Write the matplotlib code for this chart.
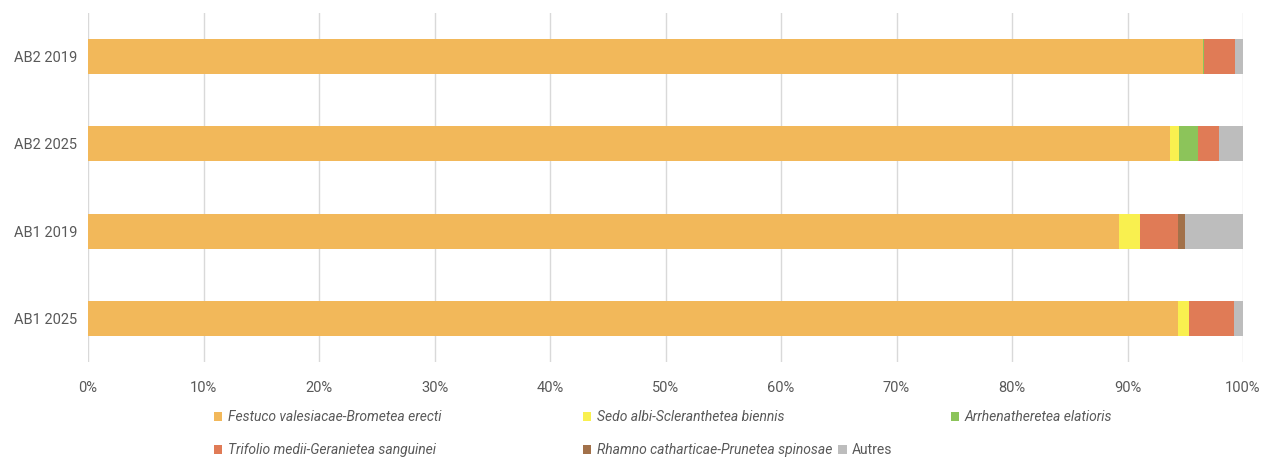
import numpy as np
import matplotlib.pyplot as plt
from matplotlib.patches import Patch

categories = ['AB2 2019', 'AB2 2025', 'AB1 2019', 'AB1 2025']
series_names = ['Festuco valesiacae-Brometea erecti',
                'Sedo albi-Scleranthetea biennis',
                'Arrhenatheretea elatioris',
                'Trifolio medii-Geranietea sanguinei',
                'Rhamno catharticae-Prunetea spinosae',
                'Autres']
festuco = [96.5, 93.7, 89.3, 94.4]
sedo = [0.0, 0.8, 1.8, 0.9]
arrhena = [0.1, 1.6, 0.0, 0.0]
trifolio = [2.7, 1.8, 3.3, 3.9]
rhamno = [0.0, 0.0, 0.6, 0.0]
autres = [0.7, 2.1, 5.0, 0.8]

colors = ['#F2B85A', '#F9F04F', '#8CC45A', '#E07B56', '#A2714A', '#BDBDBD']
italic = [True, True, True, True, True, False]

plt.rcParams['font.family'] = ['Roboto', 'DejaVu Sans']

W, H = 1271, 461
fig = plt.figure(figsize=(W / 100, H / 100), dpi=100)
ax = fig.add_axes([88 / W, 1 - 362 / H, (1243 - 88) / W, (362 - 13) / H])

y = np.arange(len(categories))
left = np.zeros(len(categories))
for vals, name, c in zip([festuco, sedo, arrhena, trifolio, rhamno, autres], series_names, colors):
    ax.barh(y, vals, left=left, height=0.4, color=c, label=name, zorder=2)
    left += np.array(vals)

ax.set_xlim(0, 100)
ax.set_ylim(3.5, -0.5)
ax.set_yticks(y)
ax.set_yticklabels(categories)
ax.set_xticks(np.arange(0, 101, 10))
ax.set_xticklabels([f'{v}%' for v in range(0, 101, 10)])
ax.tick_params(axis='both', length=0, labelsize=10.5, colors='#595959')
ax.tick_params(axis='x', pad=14)
ax.tick_params(axis='y', pad=8)
ax.grid(axis='x', color='#D9D9D9', linewidth=1, zorder=0)
for s in ax.spines.values():
    s.set_visible(False)


def add_entry(name, c, it, px, py):
    h = Patch(facecolor=c, edgecolor='none', label=name)
    lg = fig.legend(handles=[h], loc='center left', bbox_to_anchor=(px / W, 1 - py / H),
                    frameon=False, fontsize=10, handlelength=0.6, handleheight=0.6,
                    handletextpad=0.4, borderpad=0, borderaxespad=0)
    for t in lg.get_texts():
        t.set_color('#595959')
        if it:
            t.set_style('italic')
    return lg


# legend entries placed like the original flowed layout
leg_pos = [(214, 417), (583, 417), (951, 417), (214, 450), (583, 450)]
last = None
for name, c, it, (px, py) in zip(series_names[:5], colors[:5], italic[:5], leg_pos):
    last = add_entry(name, c, it, px, py)

# "Autres" follows right after the last entry of the second row
fig.canvas.draw()
x_end = last.get_window_extent().x1
add_entry(series_names[5], colors[5], italic[5], x_end + 6, 450)

fig.savefig('out.png', dpi=100)
